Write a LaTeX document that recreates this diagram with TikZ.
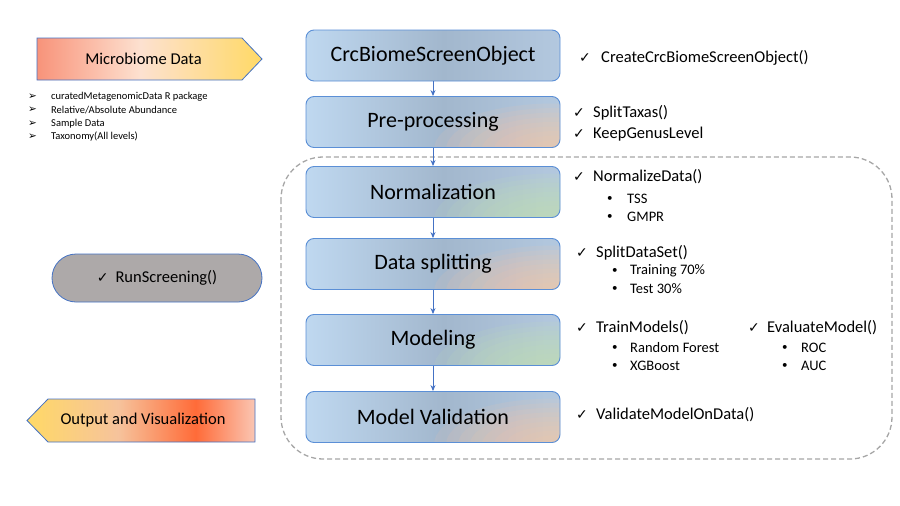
\documentclass[tikz,border=0pt]{standalone}
\usepackage{fontspec}
\setmainfont{Carlito}
\newfontfamily\symfont{DejaVu Sans}
\usetikzlibrary{arrows.meta}

\definecolor{boxL}{HTML}{BFD8F0}
\definecolor{boxM}{HTML}{A2B7CD}
\definecolor{boxR}{HTML}{B3C8DF}
\definecolor{boxborder}{HTML}{5B8FD6}
\definecolor{peach}{HTML}{F8C8A6}
\definecolor{mint}{HTML}{C3E2B2}
\definecolor{salmon}{HTML}{F8937A}
\definecolor{lightpeach}{HTML}{FDE1D0}
\definecolor{gold}{HTML}{FFD966}
\definecolor{orangered}{HTML}{FF6B38}
\definecolor{lightsalmon}{HTML}{FAC6B3}
\definecolor{midpeach}{HTML}{F6C39C}
\definecolor{shapeborder}{HTML}{4472C4}
\definecolor{pillgray}{HTML}{ADA9A9}
\definecolor{framegray}{HTML}{A6A6A6}

\pgfdeclarehorizontalshading{boxshade}{100bp}{color(0bp)=(boxL); color(25bp)=(boxL); color(52bp)=(boxM); color(75bp)=(boxR); color(100bp)=(boxR)}
\pgfdeclarehorizontalshading{inshade}{100bp}{color(0bp)=(salmon); color(25bp)=(salmon); color(48bp)=(lightpeach); color(75bp)=(gold); color(100bp)=(gold)}
\pgfdeclarehorizontalshading{outshade}{100bp}{color(0bp)=(gold); color(25bp)=(gold); color(45bp)=(midpeach); color(62bp)=(orangered); color(75bp)=(lightsalmon); color(100bp)=(lightsalmon)}

\tikzset{
  stage/.style={draw=boxborder, line width=0.9pt, rounded corners=8pt,
    minimum width=254pt, minimum height=51pt, inner sep=0pt,
    shade, shading=boxshade, font=\fontsize{22}{26}\selectfont},
  tint/.style={path picture={
    \foreach \r in {1,0.9,0.8,0.7,0.6,0.5,0.4,0.3,0.2,0.1}
      \fill[#1, fill opacity=0.12]
        ([xshift=-6pt,yshift=-2pt]path picture bounding box.south east)
        ellipse ({\r*120pt} and {\r*46pt});}},
  chk/.style={anchor=west, inner sep=0pt, font=\symfont\fontsize{14}{14}\selectfont},
  fn/.style={anchor=west, inner sep=0pt, font=\fontsize{16.5}{18}\selectfont},
  dot/.style={anchor=west, inner sep=0pt, font=\fontsize{11}{12}\selectfont},
  item/.style={anchor=west, inner sep=0pt, font=\fontsize{14.5}{16}\selectfont},
  small/.style={anchor=west, inner sep=0pt, font=\fontsize{10.5}{12}\selectfont},
  tri/.style={anchor=west, inner sep=0pt, font=\symfont\fontsize{10.5}{12}\selectfont},
  flow/.style={draw=shapeborder, line width=0.8pt, -{Stealth[length=6pt,width=5pt]}},
}

\begin{document}
\begin{tikzpicture}[x=1pt,y=-1pt]
\useasboundingbox (0,0) rectangle (900,506);

% dashed frame
\draw[framegray, line width=1.3pt, dash pattern=on 5pt off 3pt, rounded corners=42pt]
  (281,157) rectangle (892,459);

% main stages
\node[stage] (b1) at (433,55.5) {CrcBiomeScreenObject};
\node[stage, tint=peach] (b2) at (433,122) {Pre-processing};
\node[stage, tint=mint] (b3) at (433,192) {Normalization};
\node[stage, tint=peach] (b4) at (433,264) {Data splitting};
\node[stage, tint=mint] (b5) at (433,340) {Modeling};
\node[stage, tint=peach] (b6) at (433,417) {Model Validation};

\draw[flow] (b1) -- (b2);
\draw[flow] (b2) -- (b3);
\draw[flow] (b3) -- (b4);
\draw[flow] (b4) -- (b5);
\draw[flow] (b5) -- (b6);

% right-hand notes
\node[chk] (k1) at (579,58) {✓};
\node[fn] (f1) at (601,58) {CreateCrcBiomeScreenObject()};

\node[chk] (k2a) at (573,113) {✓};
\node[fn] (f2a) at (593,113) {SplitTaxas()};
\node[chk] (k2b) at (573,134) {✓};
\node[fn] (f2b) at (593,134) {KeepGenusLevel};

\node[chk] (k3) at (573,177) {✓};
\node[fn] (f3) at (593,177) {NormalizeData()};
\node[dot] (d3a) at (607,199) {•};
\node[item] (i3a) at (627,199) {TSS};
\node[dot] (d3b) at (607,217) {•};
\node[item] (i3b) at (627,217) {GMPR};

\node[chk] (k4) at (576,253) {✓};
\node[fn] (f4) at (596,253) {SplitDataSet()};
\node[dot] (d4a) at (612,271) {•};
\node[item] (i4a) at (630,271) {Training 70\%};
\node[dot] (d4b) at (612,289) {•};
\node[item] (i4b) at (630,289) {Test 30\%};

\node[chk] (k5) at (576,328) {✓};
\node[fn] (f5) at (596,328) {TrainModels()};
\node[dot] (d5a) at (612,348) {•};
\node[item] (i5a) at (630,348) {Random Forest};
\node[dot] (d5b) at (612,366) {•};
\node[item] (i5b) at (630,366) {XGBoost};

\node[chk] (k5e) at (748,328) {✓};
\node[fn] (f5e) at (767,328) {EvaluateModel()};
\node[dot] (d5c) at (782,348) {•};
\node[item] (i5c) at (801,348) {ROC};
\node[dot] (d5d) at (782,366) {•};
\node[item] (i5d) at (801,366) {AUC};

\node[chk] (k6) at (576,415) {✓};
\node[fn] (f6) at (596,415) {ValidateModelOnData()};

% left: input arrow
\shade[shading=inshade, draw=shapeborder, line width=0.8pt]
  (37,38) -- (242,38) -- (262,59) -- (242,80) -- (37,80) -- cycle;
\node[font=\fontsize{16.5}{18}\selectfont, inner sep=0pt] (inlabel) at (143.5,59) {Microbiome Data};

\node[tri] (t1) at (28,97) {➢};
\node[small] (s1) at (51,97) {curatedMetagenomicData R package};
\node[tri] (t2) at (28,110) {➢};
\node[small] (s2) at (51,110) {Relative/Absolute Abundance};
\node[tri] (t3) at (28,123.5) {➢};
\node[small] (s3) at (51,123.5) {Sample Data};
\node[tri] (t4) at (28,137) {➢};
\node[small] (s4) at (51,137) {Taxonomy(All levels)};

% RunScreening pill
\node[draw=shapeborder, line width=0.8pt, fill=pillgray, rounded corners=24pt,
  minimum width=210pt, minimum height=48pt, inner sep=0pt,
  font=\fontsize{16.5}{18}\selectfont] (run) at (157,278)
  {{\symfont\fontsize{14}{14}\selectfont ✓}\hspace{7pt}RunScreening()};

% output arrow
\shade[shading=outshade, draw=shapeborder, line width=0.8pt]
  (27,420.5) -- (48,399) -- (255,399) -- (255,442) -- (48,442) -- cycle;
\node[font=\fontsize{16.5}{18}\selectfont, inner sep=0pt] (outlabel) at (143,420.5) {Output and Visualization};

\end{tikzpicture}
\end{document}
